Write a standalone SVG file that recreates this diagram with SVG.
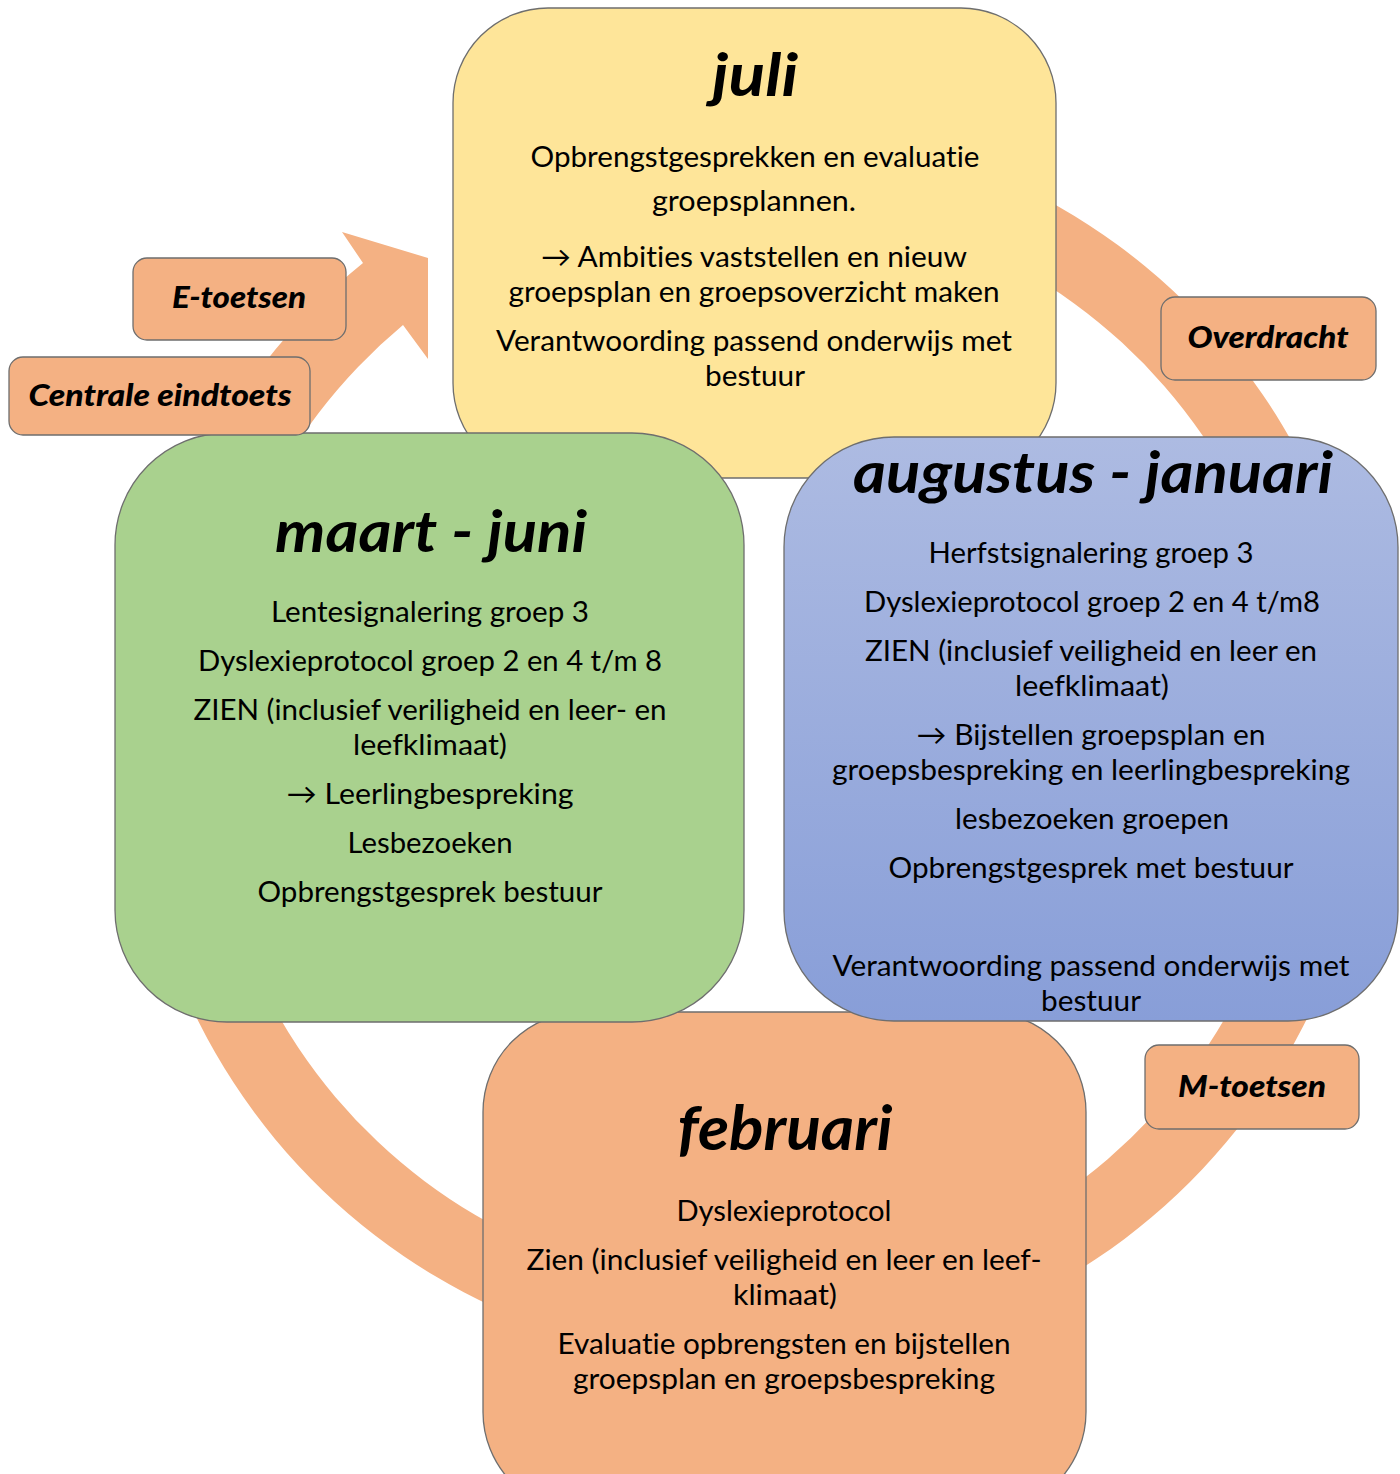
<svg xmlns="http://www.w3.org/2000/svg" width="1400" height="1474" viewBox="0 0 1400 1474">
<style>
.box{stroke:#6e6e6e;stroke-width:1.3}
.t{font-family:Lato,"Open Sans",sans-serif;font-size:28.5px;fill:#000;text-anchor:middle;font-variant-ligatures:none;font-feature-settings:"liga" 0,"clig" 0,"dlig" 0,"calt" 0}
.h{font-family:Lato,"Open Sans",sans-serif;font-weight:bold;font-style:italic;fill:#000;text-anchor:middle;font-variant-ligatures:none;font-feature-settings:"liga" 0,"clig" 0,"dlig" 0,"calt" 0}
.lb{font-family:Lato,"Open Sans",sans-serif;font-weight:900;font-style:italic;font-size:30px;fill:#000;text-anchor:middle;font-variant-ligatures:none;font-feature-settings:"liga" 0,"clig" 0,"dlig" 0,"calt" 0}
</style>
<defs>
<linearGradient id="blueGrad" x1="0" y1="0" x2="0" y2="1">
<stop offset="0" stop-color="#adbbe2"/>
<stop offset="1" stop-color="#889ed8"/>
</linearGradient>
</defs>
<rect width="1400" height="1474" fill="#fff"/>
<g id="connectors">
<path id="cycle-arrow" fill="#f4b183" d="M363,263 L342,232 L428,258 L428,359 L403,325 A546,546 0 1 0 849.8,207.3 L862.5,135.4 A619,619 0 1 1 363,263 Z"/>
</g>
<g id="juli">
<rect class="box" x="453" y="8" width="603" height="470" rx="95" fill="#fee599"/>
<text class="h" x="755" y="96" font-size="60" textLength="86" lengthAdjust="spacingAndGlyphs">juli</text>
<text class="t" x="755" y="167" textLength="449" lengthAdjust="spacingAndGlyphs">Opbrengstgesprekken en evaluatie</text>
<text class="t" x="754" y="211" textLength="204" lengthAdjust="spacingAndGlyphs">groepsplannen.</text>
<text class="t" x="754" y="267" textLength="426" lengthAdjust="spacingAndGlyphs">→ Ambities vaststellen en nieuw</text>
<text class="t" x="754" y="302" textLength="491" lengthAdjust="spacingAndGlyphs">groepsplan en groepsoverzicht maken</text>
<text class="t" x="754" y="351" textLength="516" lengthAdjust="spacingAndGlyphs">Verantwoording passend onderwijs met</text>
<text class="t" x="755" y="386" textLength="100" lengthAdjust="spacingAndGlyphs">bestuur</text>
</g>
<g id="februari">
<rect class="box" x="483" y="1012" width="603" height="500" rx="100" fill="#f4b183"/>
<text class="h" x="785" y="1150" font-size="62" textLength="215" lengthAdjust="spacingAndGlyphs">februari</text>
<text class="t" x="784" y="1221" textLength="215" lengthAdjust="spacingAndGlyphs">Dyslexieprotocol</text>
<text class="t" x="784" y="1270" textLength="515" lengthAdjust="spacingAndGlyphs">Zien (inclusief veiligheid en leer en leef-</text>
<text class="t" x="785" y="1305" textLength="104" lengthAdjust="spacingAndGlyphs">klimaat)</text>
<text class="t" x="784" y="1354" textLength="453" lengthAdjust="spacingAndGlyphs">Evaluatie opbrengsten en bijstellen</text>
<text class="t" x="784" y="1389" textLength="422" lengthAdjust="spacingAndGlyphs">groepsplan en groepsbespreking</text>
</g>
<g id="augustus-januari">
<rect class="box" x="784" y="437" width="614" height="584" rx="110" fill="url(#blueGrad)"/>
<text class="h" x="1093" y="493" font-size="58" textLength="480" lengthAdjust="spacingAndGlyphs">augustus - januari</text>
<text class="t" x="1091" y="563" textLength="325" lengthAdjust="spacingAndGlyphs">Herfstsignalering groep 3</text>
<text class="t" x="1092" y="612" textLength="456" lengthAdjust="spacingAndGlyphs">Dyslexieprotocol groep 2 en 4 t/m8</text>
<text class="t" x="1091" y="661" textLength="452" lengthAdjust="spacingAndGlyphs">ZIEN (inclusief veiligheid en leer en</text>
<text class="t" x="1092" y="696" textLength="154" lengthAdjust="spacingAndGlyphs">leefklimaat)</text>
<text class="t" x="1091" y="745" textLength="349" lengthAdjust="spacingAndGlyphs">→ Bijstellen groepsplan en</text>
<text class="t" x="1091" y="780" textLength="518" lengthAdjust="spacingAndGlyphs">groepsbespreking en leerlingbespreking</text>
<text class="t" x="1092" y="829" textLength="274" lengthAdjust="spacingAndGlyphs">lesbezoeken groepen</text>
<text class="t" x="1091" y="878" textLength="405" lengthAdjust="spacingAndGlyphs">Opbrengstgesprek met bestuur</text>
<text class="t" x="1091" y="976" textLength="517" lengthAdjust="spacingAndGlyphs">Verantwoording passend onderwijs met</text>
<text class="t" x="1091" y="1011" textLength="100" lengthAdjust="spacingAndGlyphs">bestuur</text>
</g>
<g id="maart-juni">
<rect class="box" x="115" y="433" width="629" height="589" rx="112" fill="#a9d18e"/>
<text class="h" x="431" y="552" font-size="58" textLength="312" lengthAdjust="spacingAndGlyphs">maart - juni</text>
<text class="t" x="430" y="622" textLength="318" lengthAdjust="spacingAndGlyphs">Lentesignalering groep 3</text>
<text class="t" x="430" y="671" textLength="464" lengthAdjust="spacingAndGlyphs">Dyslexieprotocol groep 2 en 4 t/m 8</text>
<text class="t" x="430" y="720" textLength="473" lengthAdjust="spacingAndGlyphs">ZIEN (inclusief veriligheid en leer- en</text>
<text class="t" x="430" y="755" textLength="154" lengthAdjust="spacingAndGlyphs">leefklimaat)</text>
<text class="t" x="430" y="804" textLength="287" lengthAdjust="spacingAndGlyphs">→ Leerlingbespreking</text>
<text class="t" x="430" y="853" textLength="165" lengthAdjust="spacingAndGlyphs">Lesbezoeken</text>
<text class="t" x="430" y="902" textLength="345" lengthAdjust="spacingAndGlyphs">Opbrengstgesprek bestuur</text>
</g>
<g id="label-e-toetsen">
<rect class="box" x="133" y="258" width="213" height="82" rx="14" fill="#f4b183"/>
<text class="lb" x="239" y="308" textLength="134" lengthAdjust="spacingAndGlyphs">E-toetsen</text>
</g>
<g id="label-centrale-eindtoets">
<rect class="box" x="9" y="357" width="301" height="78" rx="14" fill="#f4b183"/>
<text class="lb" x="160" y="406" textLength="263" lengthAdjust="spacingAndGlyphs">Centrale eindtoets</text>
</g>
<g id="label-overdracht">
<rect class="box" x="1161" y="297" width="215" height="83" rx="14" fill="#f4b183"/>
<text class="lb" x="1268" y="348" textLength="161" lengthAdjust="spacingAndGlyphs">Overdracht</text>
</g>
<g id="label-m-toetsen">
<rect class="box" x="1145" y="1045" width="214" height="84" rx="14" fill="#f4b183"/>
<text class="lb" x="1252" y="1097" textLength="148" lengthAdjust="spacingAndGlyphs">M-toetsen</text>
</g>
</svg>
